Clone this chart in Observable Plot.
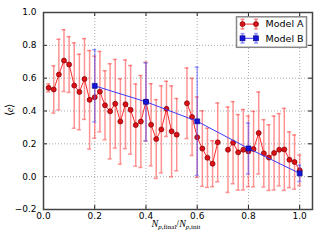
<!DOCTYPE html>
<html><head><meta charset="utf-8">
<script src="https://cdn.jsdelivr.net/npm/d3@7"></script>
<script src="https://cdn.jsdelivr.net/npm/@observablehq/plot@0.6"></script>
<style>
html,body{margin:0;padding:0;background:#fff;}
#wrap{position:relative;width:320px;height:240px;}
#ov{position:absolute;left:0;top:0;pointer-events:none;}
</style>
</head><body>
<div id="wrap"></div>
<script>
// Model A
const xA = [0.02,0.04,0.06,0.08,0.10,0.12,0.14,0.16,0.18,0.20,
            0.22,0.24,0.26,0.28,0.30,0.32,0.34,0.36,0.38,0.40,
            0.42,0.44,0.46,0.48,0.50,0.52,0.54,0.56,0.58,0.60,
            0.62,0.64,0.66,0.68,0.70,0.72,0.74,0.76,0.78,0.80,
            0.82,0.84,0.86,0.88,0.90,0.92,0.94,0.96,0.98,1.00];
const yA = [0.541,0.531,0.622,0.707,0.683,0.555,0.516,0.595,0.468,0.484,
            0.518,0.435,0.398,0.444,0.336,0.441,0.407,0.314,0.336,0.457,
            0.316,0.229,0.288,0.413,0.276,0.256,null,0.447,0.364,0.240,
            0.171,0.115,0.079,0.209,null,0.164,0.207,0.148,0.164,0.154,
            0.168,0.266,0.142,0.116,0.144,0.164,0.166,0.103,0.089,0.039];
const eA = [0.024,0.144,0.215,0.188,0.170,0.260,0.230,0.246,0.300,0.250,
            0.245,0.210,0.290,0.270,0.260,0.270,0.270,0.250,0.280,0.240,
            0.250,0.240,0.265,0.168,0.277,0.220,null,0.215,0.235,0.245,
            0.230,0.180,0.140,0.240,null,0.260,0.250,0.230,0.245,0.215,
            0.230,0.250,0.205,0.200,0.225,0.220,0.250,0.170,0.165,0.093];
// Model B
const xB = [0.2,0.4,0.6,0.8,1.0];
const yB = [0.553,0.456,0.337,0.172,0.020];
const eB = [0.220,0.237,0.330,0.155,0.050];
// ticks
const xTicks = [0,0.2,0.4,0.6,0.8,1.0];
const yTicks = [-0.2,0,0.2,0.4,0.6,0.8,1.0];
const seriesNames = ["Model A","Model B"];

const dataA = xA.map((x,i)=>({x, y:yA[i], e:eA[i]}));
const validA = dataA.filter(d=>d.y!=null);
const dataB = xB.map((x,i)=>({x, y:yB[i], e:eB[i]}));

const W=320,H=240,mL=43,mR=8,mT=12,mB=31;
const pw=W-mL-mR, ph=H-mT-mB;
const fmt = d => (d<0?"\u2212":"") + Math.abs(d).toFixed(1);

const redBar = {stroke:"#ff3b3b", strokeOpacity:0.55, strokeWidth:1.5};
const blueBar = {stroke:"#4d4dff", strokeOpacity:0.55, strokeWidth:1.5};

const chart = Plot.plot({
  width:W, height:H, marginLeft:mL, marginRight:mR, marginTop:mT, marginBottom:mB,
  style:{fontFamily:"'DejaVu Sans', sans-serif", fontSize:"9px", color:"#000", background:"transparent"},
  x:{domain:[0,1.05]},
  y:{domain:[-0.2,1.0]},
  marks:[
    Plot.gridX(xTicks,{stroke:"#888", strokeOpacity:0.9, strokeDasharray:"1,2", strokeWidth:0.8}),
    Plot.gridY(yTicks,{stroke:"#888", strokeOpacity:0.9, strokeDasharray:"1,2", strokeWidth:0.8}),
    // Model A error bars
    Plot.ruleX(validA,{x:"x", y1:d=>d.y-d.e, y2:d=>d.y+d.e, ...redBar}),
    Plot.ruleY(validA,{y:d=>d.y-d.e, x1:"x", x2:"x", insetLeft:-2, insetRight:-2, ...redBar}),
    Plot.ruleY(validA,{y:d=>d.y+d.e, x1:"x", x2:"x", insetLeft:-2, insetRight:-2, ...redBar}),
    Plot.line(dataA,{x:"x", y:"y", stroke:"#ff2a2a", strokeWidth:1}),
    Plot.dot(validA,{x:"x", y:"y", r:2.5, fill:"#dc1018", stroke:"#800000", strokeWidth:0.7}),
    // Model B
    Plot.ruleX(dataB,{x:"x", y1:d=>d.y-d.e, y2:d=>d.y+d.e, ...blueBar}),
    Plot.ruleY(dataB,{y:d=>d.y-d.e, x1:"x", x2:"x", insetLeft:-2, insetRight:-2, ...blueBar}),
    Plot.ruleY(dataB,{y:d=>d.y+d.e, x1:"x", x2:"x", insetLeft:-2, insetRight:-2, ...blueBar}),
    Plot.line(dataB,{x:"x", y:"y", stroke:"#3a3aff", strokeWidth:1}),
    Plot.dot(dataB,{x:"x", y:"y", symbol:"square", r:2.8, fill:"#1414d8", stroke:"#000080", strokeWidth:0.6}),
    // inward ticks
    Plot.tickX(xTicks,{x:d=>d, insetTop:ph-4, stroke:"#222"}),
    Plot.tickX(xTicks,{x:d=>d, insetBottom:ph-4, stroke:"#222"}),
    Plot.tickY(yTicks,{y:d=>d, insetRight:pw-4, stroke:"#222"}),
    Plot.tickY(yTicks,{y:d=>d, insetLeft:pw-4, stroke:"#222"}),
    Plot.frame({stroke:"#444", strokeWidth:1.5}),
    Plot.axisX(xTicks,{tickSize:0, tickPadding:3, tickFormat:fmt, label:null}),
    Plot.axisY(yTicks,{tickSize:0, tickPadding:7, tickFormat:fmt, label:null})
  ]
});
const wrap = document.getElementById("wrap");
wrap.appendChild(chart);

// overlay: axis titles and legend
const ns="http://www.w3.org/2000/svg";
const ov = document.createElementNS(ns,"svg");
ov.setAttribute("id","ov"); ov.setAttribute("width",W); ov.setAttribute("height",H);
ov.innerHTML = `
<text x="13" y="110" transform="rotate(-90 13 110)" text-anchor="middle" font-family="'Liberation Serif', serif" font-size="10.5">\u27E8<tspan font-style="italic">e</tspan>\u27E9</text>
<text x="176" y="227" text-anchor="middle" font-family="'Liberation Serif', serif" font-size="10"><tspan font-style="italic">N</tspan><tspan font-size="7" dy="2"><tspan font-style="italic">p</tspan>,final</tspan><tspan dy="-2">/</tspan><tspan font-style="italic">N</tspan><tspan font-size="7" dy="2"><tspan font-style="italic">p</tspan>,init</tspan></text>
<g>
 <rect x="236.5" y="16.8" width="70" height="30.5" fill="#fff" stroke="#888" stroke-width="1.5"/>
 <g stroke="#ff3b3b" stroke-opacity="0.55" stroke-width="1.5">
  <line x1="242.5" x2="242.5" y1="19.3" y2="29"/><line x1="256" x2="256" y1="19.3" y2="29"/>
  <line x1="240.5" x2="244.5" y1="19.3" y2="19.3"/><line x1="254" x2="258" y1="19.3" y2="19.3"/>
  <line x1="240.5" x2="244.5" y1="29" y2="29"/><line x1="254" x2="258" y1="29" y2="29"/>
 </g>
 <line x1="242.5" x2="256" y1="24.1" y2="24.1" stroke="#ff2a2a" stroke-width="1"/>
 <circle cx="242.5" cy="24.1" r="2.5" fill="#dc1018" stroke="#800000" stroke-width="0.7"/>
 <circle cx="256" cy="24.1" r="2.5" fill="#dc1018" stroke="#800000" stroke-width="0.7"/>
 <g stroke="#4d4dff" stroke-opacity="0.55" stroke-width="1.5">
  <line x1="242.5" x2="242.5" y1="33.6" y2="43"/><line x1="256" x2="256" y1="33.6" y2="43"/>
  <line x1="240.5" x2="244.5" y1="33.6" y2="33.6"/><line x1="254" x2="258" y1="33.6" y2="33.6"/>
  <line x1="240.5" x2="244.5" y1="43" y2="43"/><line x1="254" x2="258" y1="43" y2="43"/>
 </g>
 <line x1="242.5" x2="256" y1="38.3" y2="38.3" stroke="#3a3aff" stroke-width="1"/>
 <rect x="240" y="35.8" width="5" height="5" fill="#1414d8" stroke="#000080" stroke-width="0.6"/>
 <rect x="253.5" y="35.8" width="5" height="5" fill="#1414d8" stroke="#000080" stroke-width="0.6"/>
 <text x="265.5" y="27.4" font-family="'DejaVu Sans', sans-serif" font-size="9.5">${seriesNames[0]}</text>
 <text x="265.5" y="41.6" font-family="'DejaVu Sans', sans-serif" font-size="9.5">${seriesNames[1]}</text>
</g>`;
wrap.appendChild(ov);
</script>
</body></html>
